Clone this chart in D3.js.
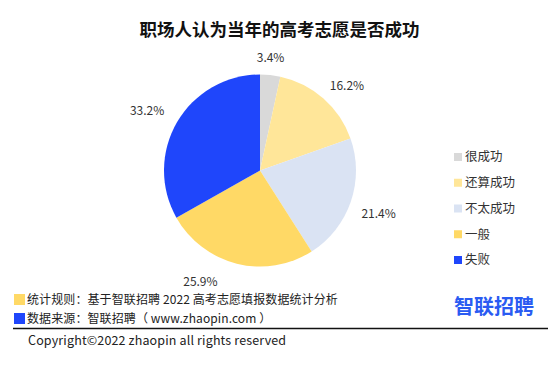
<!DOCTYPE html>
<html><head><meta charset="utf-8">
<script src="https://cdn.jsdelivr.net/npm/d3@7"></script>
<style>
body{margin:0;background:#fff;}
text{font-family:"Noto Sans CJK SC","Noto Sans",sans-serif;}
</style></head>
<body><svg id="c" width="559" height="367"></svg>
<script>
const categories = ["很成功","还算成功","不太成功","一般","失败"];
const values = [3.4,16.2,21.4,25.9,33.2];
const colors = ["#d9d9d9","#ffe699","#dae3f3","#ffd966","#1f46fb"];
const title = "职场人认为当年的高考志愿是否成功";
const notes = ["统计规则：基于智联招聘 2022 高考志愿填报数据统计分析","数据来源：智联招聘（ www.zhaopin.com ）"];
const noteColors = ["#ffd966","#1f46fb"];
const copyright = "Copyright©2022 zhaopin all rights reserved";
const logo = "智联招聘";

// layout
const cx = 260, cy = 170.5, r = 96, labelR = 118;
const labelNudge = [[-2,5],[9,4],[7,5],[-31,-3],[-11,0]];

const svg = d3.select("#c");
svg.append("text").attr("x",279.5).attr("y",36).attr("text-anchor","middle")
  .attr("font-size",17.5).attr("font-weight","bold").attr("fill","#111").text(title);

const pie = d3.pie().sort(null).value(d=>d)(values);
const arc = d3.arc().innerRadius(0).outerRadius(r);
const g = svg.append("g").attr("transform",`translate(${cx},${cy})`);
g.selectAll("path").data(pie).join("path").attr("d",arc).attr("fill",(d,i)=>colors[i]);
g.selectAll("text.lab").data(pie).join("text").attr("class","lab")
  .attr("x",(d,i)=>Math.sin((d.startAngle+d.endAngle)/2)*labelR+labelNudge[i][0])
  .attr("y",(d,i)=>-Math.cos((d.startAngle+d.endAngle)/2)*labelR+labelNudge[i][1])
  .attr("dy","0.35em").attr("text-anchor","middle").attr("font-size",12).attr("fill","#333")
  .text(d=>d.value.toFixed(1)+"%");

// legend
const ly = d3.scalePoint().domain(categories).range([157,260]);
const lg = svg.append("g");
lg.selectAll("rect").data(categories).join("rect")
  .attr("x",454).attr("y",d=>ly(d)-4).attr("width",8).attr("height",8).attr("fill",(d,i)=>colors[i]);
lg.selectAll("text").data(categories).join("text")
  .attr("x",465).attr("y",d=>ly(d)).attr("dy","0.35em").attr("font-size",12.5).attr("fill","#333").text(d=>d);

// notes
const ny = d3.scalePoint().domain(notes).range([300,319]);
svg.selectAll("rect.n").data(notes).join("rect").attr("class","n")
  .attr("x",14).attr("y",d=>ny(d)-6).attr("width",11).attr("height",11).attr("fill",(d,i)=>noteColors[i]);
svg.selectAll("text.n").data(notes).join("text").attr("class","n")
  .attr("x",27).attr("y",d=>ny(d)).attr("dy","0.35em").attr("font-size",12).attr("letter-spacing",0.1).attr("fill","#222").text(d=>d);

svg.append("line").attr("x1",13).attr("x2",548).attr("y1",328.5).attr("y2",328.5).attr("stroke","#111").attr("stroke-width",1.3);
svg.append("text").attr("x",28).attr("y",341).attr("dy","0.35em").attr("font-size",12.5).attr("letter-spacing",0.15).attr("fill","#222").text(copyright);
svg.append("text").attr("x",494).attr("y",307).attr("dy","0.35em").attr("text-anchor","middle")
  .attr("font-size",20).attr("font-weight","bold").attr("fill","#2a5bf2").text(logo);
</script></body></html>
